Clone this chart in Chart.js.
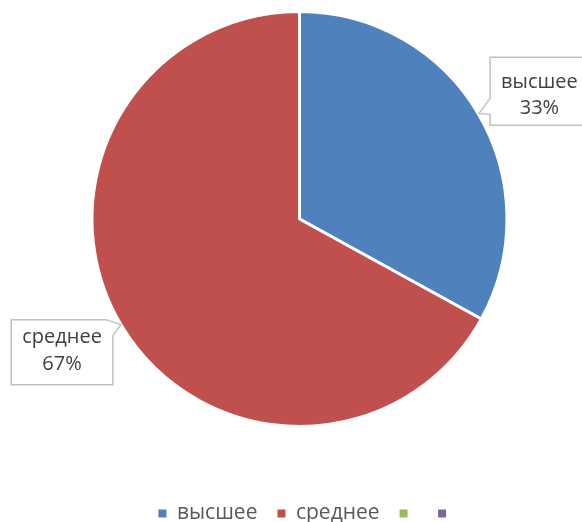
<!DOCTYPE html>
<html><head><meta charset="utf-8">
<script src="https://cdn.jsdelivr.net/npm/chart.js@4"></script>
<style>html,body{margin:0;padding:0;background:#fff}#wrap{width:582px;height:522px;position:relative}</style>
</head><body><div id="wrap"><canvas id="c"></canvas></div>
<script>
const categories = ['высшее', 'среднее', '', ''];
const values = [33, 67, 0, 0];
const colors = ['#4F81BD', '#C0504D', '#9BBB59', '#8064A2'];

const total = values.reduce((a, b) => a + b, 0);

const calloutPlugin = {
  id: 'callouts',
  afterDatasetsDraw(chart, args, opts) {
    const ctx = chart.ctx;
    const meta = chart.getDatasetMeta(0);
    meta.data.forEach((arc, i) => {
      if (!values[i]) return;
      const c = opts.items[i];
      const p = arc.getProps(['x', 'y', 'startAngle', 'endAngle', 'outerRadius'], true);
      const mid = (p.startAngle + p.endAngle) / 2;
      const tx = p.x + Math.cos(mid) * p.outerRadius;
      const ty = p.y + Math.sin(mid) * p.outerRadius;
      const line1 = categories[i];
      const line2 = Math.round(values[i] / total * 100) + '%';
      ctx.save();
      ctx.font = opts.font;
      const tw = Math.max(ctx.measureText(line1).width, ctx.measureText(line2).width);
      const w = tw + opts.padX * 2;
      const h = c.h;
      ctx.beginPath();
      let bx, by;
      if (c.side === 'right') {
        bx = tx + c.gap; by = ty + c.top;
        ctx.moveTo(bx, by);
        ctx.lineTo(bx + w, by);
        ctx.lineTo(bx + w, by + h);
        ctx.lineTo(bx, by + h);
        ctx.lineTo(bx, ty + c.pb);
        ctx.lineTo(tx + 1, ty);
        ctx.lineTo(bx, ty + c.pa);
        ctx.closePath();
      } else {
        bx = tx - c.gap - w; by = ty + c.top;
        ctx.moveTo(bx, by);
        ctx.lineTo(bx + w - c.pa, by);
        ctx.lineTo(tx, ty);
        ctx.lineTo(bx + w, ty + c.pb);
        ctx.lineTo(bx + w, by + h);
        ctx.lineTo(bx, by + h);
        ctx.closePath();
      }
      ctx.fillStyle = '#FFFFFF';
      ctx.fill();
      ctx.lineWidth = 1.5;
      ctx.strokeStyle = '#BFBFBF';
      ctx.stroke();
      ctx.fillStyle = '#404040';
      ctx.textAlign = 'center';
      ctx.textBaseline = 'middle';
      ctx.fillText(line1, bx + w / 2, ty + c.l1);
      ctx.fillText(line2, bx + w / 2, ty + c.l2);
      ctx.restore();
    });
  }
};

new Chart(document.getElementById('c'), {
  type: 'pie',
  data: {
    labels: categories,
    datasets: [{
      data: values,
      backgroundColor: colors,
      borderColor: '#FFFFFF',
      borderWidth: 3,
      hoverOffset: 0
    }]
  },
  plugins: [calloutPlugin],
  options: {
    responsive: true,
    maintainAspectRatio: false,
    animation: false,
    events: [],
    layout: { padding: { top: 10, left: 33, right: 0, bottom: -12 } },
    plugins: {
      tooltip: { enabled: false },
      title: {
        display: true, position: 'right', fullSize: false, text: ' ',
        font: { size: 10 }, padding: { top: 2, bottom: 2 }
      },
      legend: {
        position: 'bottom',
        title: { display: true, text: ' ', font: { size: 10 }, padding: { top: 43, bottom: 0 } },
        labels: {
          boxWidth: 8,
          boxHeight: 8,
          padding: 20,
          color: '#595959',
          font: { family: '"Open Sans", sans-serif', size: 21 },
          generateLabels(chart) {
            const items = Chart.overrides.pie.plugins.legend.labels.generateLabels(chart);
            items.forEach(it => { it.lineWidth = 0; it.strokeStyle = 'rgba(0,0,0,0)'; });
            return items;
          }
        }
      },
      callouts: {
        font: '20px "Open Sans", sans-serif',
        padX: 11,
        items: [
          { side: 'right', gap: 12, top: -56, h: 68, pa: -15, pb: 1, l1: -31, l2: -5 },
          { side: 'left', gap: 8, top: -5, h: 65, pa: 7, pb: 11, l1: 13, l2: 40 }
        ]
      }
    }
  }
});
</script>
</body></html>
